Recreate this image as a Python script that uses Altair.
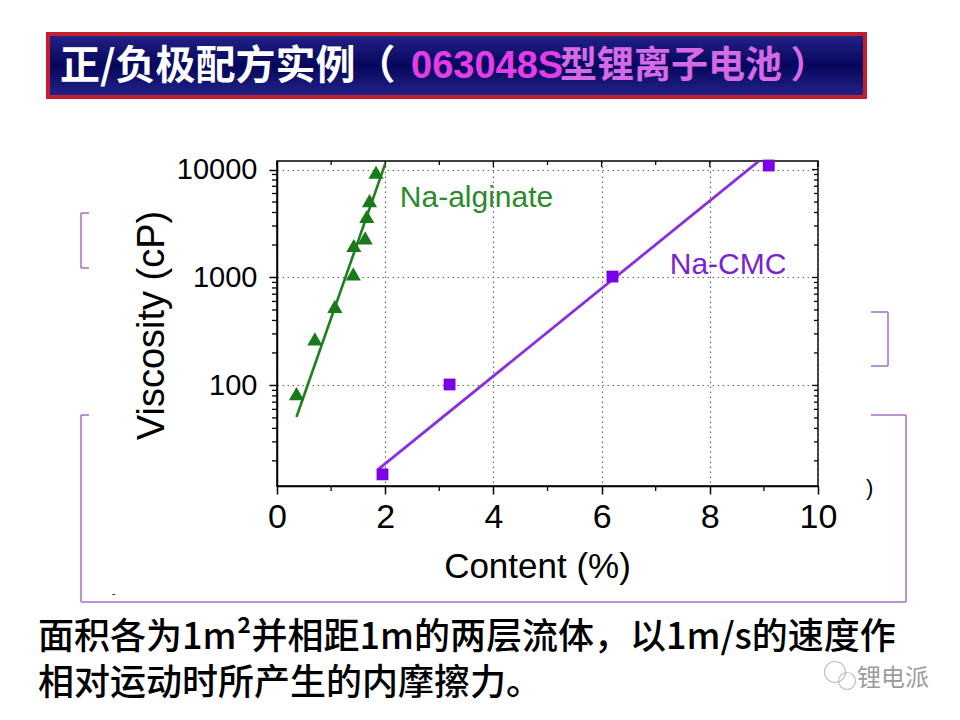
import altair as alt
import pandas as pd

# ---------------- data ----------------
ALG_CONTENT = [0.36, 0.70, 1.07, 1.41, 1.42, 1.63, 1.66, 1.71, 1.83]
ALG_VISC = [84, 270, 540, 1080, 1980, 2330, 3670, 5160, 9440]
ALG_FIT_CONTENT = [0.36, 2.00]
ALG_FIT_VISC = [51, 11300]

CMC_CONTENT = [1.95, 3.19, 6.20, 9.09]
CMC_VISC = [15, 102, 1020, 10900]
CMC_FIT_CONTENT = [1.87, 8.90]
CMC_FIT_VISC = [16.7, 11900]

SERIES_LABELS = ["Na-alginate", "Na-CMC"]
LABEL_CONTENT = [2.27, 7.26]
LABEL_VISC = [4480, 1075]

X_MAJOR = [0, 2, 4, 6, 8, 10]
X_MINOR = [1, 3, 5, 7, 9]
Y_MAJOR = [100, 1000, 10000]
Y_MINOR = [20, 30, 40, 50, 60, 70, 80, 90,
           200, 300, 400, 500, 600, 700, 800, 900,
           2000, 3000, 4000, 5000, 6000, 7000, 8000, 9000]

TITLE_WHITE = "正/负极配方实例（"
TITLE_CODE = "063048S"
TITLE_REST = "型锂离子电池 ）"
BODY_LINE1 = "面积各为1m²并相距1m的两层流体，以1m/s的速度作"
BODY_LINE2 = "相对运动时所产生的内摩擦力。"
WATERMARK = "锂电派"

# ---------------- layout ----------------
W, H = 541, 325
OX, OY = 277, 161          # page position of plot origin
LAT = "Liberation Sans"
CJK = "Noto Sans CJK SC"
BR = "#a86cc1"


def px(x):
    return x - OX


def py(y):
    return y - OY


xs = alt.Scale(domain=[0, 10], nice=False, zero=False)
ys = alt.Scale(type="log", domain=[11.7, 12000], nice=False)

X_AXIS = alt.Axis(
    values=X_MAJOR, format="d", title="Content (%)",
    tickSize=8, tickWidth=1.5, tickColor="black",
    domainColor="black", domainWidth=1.5,
    labelFont=LAT, labelFontSize=34, labelColor="black", labelPadding=6,
    labelFlush=False, labelOverlap=False,
    grid=True, gridDash=[1.5, 3.5], gridColor="#666666", gridWidth=1.2,
    titleFont=LAT, titleFontSize=35, titleFontWeight="normal", titleColor="black",
    titleX=260, titleY=91, titleBaseline="alphabetic", titleAlign="center",
)
Y_AXIS = alt.Axis(
    values=Y_MAJOR, format="d", title="Viscosity (cP)",
    tickSize=8, tickWidth=1.5, tickColor="black",
    domainColor="black", domainWidth=1.5,
    labelFont=LAT, labelFontSize=29, labelColor="black", labelPadding=12,
    labelFlush=False, labelOverlap=False,
    grid=True, gridDash=[1.5, 3.5], gridColor="#666666", gridWidth=1.2,
    titleFont=LAT, titleFontSize=38, titleFontWeight="normal", titleColor="black",
    titleX=-114, titleY=164, titleBaseline="alphabetic", titleAlign="center",
    titleAngle=270,
)


def X():
    return alt.X("content:Q", scale=xs, axis=X_AXIS)


def Y():
    return alt.Y("visc:Q", scale=ys, axis=Y_AXIS)


alg = pd.DataFrame({"content": ALG_CONTENT, "visc": ALG_VISC})
alg_fit = pd.DataFrame({"content": ALG_FIT_CONTENT, "visc": ALG_FIT_VISC})
cmc = pd.DataFrame({"content": CMC_CONTENT, "visc": CMC_VISC})
cmc_fit = pd.DataFrame({"content": CMC_FIT_CONTENT, "visc": CMC_FIT_VISC})

layers = []

# ---- decorations (slide elements) ----
ONE = alt.Data(values=[{}])


def seg(x1, y1, x2, y2, color=BR, w=1.5):
    return alt.Chart(ONE).mark_rule(color=color, strokeWidth=w).encode(
        x=alt.value(px(x1)), x2=alt.value(px(x2)),
        y=alt.value(py(y1)), y2=alt.value(py(y2)))


def txt(s, x, y, size, color="black", font=CJK, weight="normal",
        align="left", baseline="middle"):
    return alt.Chart(ONE).mark_text(
        font=font, fontSize=size, fontWeight=weight, color=color,
        align=align, baseline=baseline).encode(
        x=alt.value(px(x)), y=alt.value(py(y)), text=alt.value(s))


banner_fill = alt.Gradient(
    gradient="linear", x1=0, x2=0, y1=0, y2=1,
    stops=[alt.GradientStop(color="#24248a", offset=0),
           alt.GradientStop(color="#06065c", offset=0.5),
           alt.GradientStop(color="#24248a", offset=1)])
layers.append(
    alt.Chart(ONE).mark_rect(fill=banner_fill, stroke="#c2202c", strokeWidth=4).encode(
        x=alt.value(px(48)), x2=alt.value(px(865)),
        y=alt.value(py(34)), y2=alt.value(py(97))))
layers.append(txt(TITLE_WHITE, 60, 67, 40, "white", CJK, "bold"))
layers.append(txt(TITLE_CODE, 411, 67, 38, "#e23ee8", LAT, "bold"))
layers.append(txt(TITLE_REST, 560, 67, 37, "#d46ae4", CJK, "bold"))

# purple bracket remnants
layers += [
    seg(81, 213, 81, 268), seg(81, 213, 89, 213), seg(81, 268, 89, 268),
    seg(888, 312, 888, 366), seg(871, 312, 888, 312), seg(871, 366, 888, 366),
    seg(81, 415, 81, 602), seg(81, 415, 89, 415), seg(81, 602, 906, 602),
    seg(906, 415, 906, 602), seg(871, 415, 906, 415),
]
layers.append(txt(")", 866, 488, 22, "black", LAT))
layers.append(txt("-", 112, 594, 10, "black", LAT))

# body text
layers.append(txt(BODY_LINE1, 38, 638, 36, "black", CJK, 500))
layers.append(txt(BODY_LINE2, 38, 684, 36, "black", CJK, 500))

# watermark
layers.append(
    alt.Chart(ONE).mark_point(shape="circle", filled=False, color="#a8a8a8",
                              strokeWidth=1.2, size=440).encode(
        x=alt.value(px(835)), y=alt.value(py(672))))
layers.append(
    alt.Chart(ONE).mark_point(shape="circle", filled=False, color="#a8a8a8",
                              strokeWidth=1.2, size=290).encode(
        x=alt.value(px(847)), y=alt.value(py(681))))
layers.append(txt(WATERMARK, 857, 679, 24, "#9c9c9c", CJK))

# ---- minor / inward ticks of the frame ----
xmaj = pd.DataFrame({"content": X_MAJOR})
xmin = pd.DataFrame({"content": X_MINOR})
ymaj = pd.DataFrame({"visc": Y_MAJOR})
ymin = pd.DataFrame({"visc": Y_MINOR})

layers.append(alt.Chart(xmin).mark_rule(color="black", strokeWidth=1.3).encode(
    x=X(), y=alt.value(H), y2=alt.value(H + 5)))
layers.append(alt.Chart(xmaj).mark_rule(color="black", strokeWidth=1.3).encode(
    x=X(), y=alt.value(0), y2=alt.value(6)))
layers.append(alt.Chart(xmin).mark_rule(color="black", strokeWidth=1.3).encode(
    x=X(), y=alt.value(0), y2=alt.value(4)))
layers.append(alt.Chart(ymin).mark_rule(color="black", strokeWidth=1.3).encode(
    y=Y(), x=alt.value(-5), x2=alt.value(0)))
layers.append(alt.Chart(ymaj).mark_rule(color="black", strokeWidth=1.3).encode(
    y=Y(), x=alt.value(W - 6), x2=alt.value(W)))
layers.append(alt.Chart(ymin).mark_rule(color="black", strokeWidth=1.3).encode(
    y=Y(), x=alt.value(W - 4), x2=alt.value(W)))

# ---- data ----
layers.append(alt.Chart(alg_fit).mark_line(color="#1e7f1e", strokeWidth=2.6, clip=True).encode(
    x=X(), y=Y()))
layers.append(alt.Chart(cmc_fit).mark_line(color="#8a2ee0", strokeWidth=2.8, clip=True).encode(
    x=X(), y=Y()))
layers.append(alt.Chart(alg).mark_point(shape="triangle-up", filled=True, size=230,
                                        color="#1a7a1a", opacity=1).encode(x=X(), y=Y()))
layers.append(alt.Chart(cmc).mark_square(size=140, color="#7a00e8", opacity=1).encode(
    x=X(), y=Y()))

lab0 = pd.DataFrame({"content": [LABEL_CONTENT[0]], "visc": [LABEL_VISC[0]],
                     "label": [SERIES_LABELS[0]]})
lab1 = pd.DataFrame({"content": [LABEL_CONTENT[1]], "visc": [LABEL_VISC[1]],
                     "label": [SERIES_LABELS[1]]})
layers.append(alt.Chart(lab0).mark_text(align="left", baseline="alphabetic", font=LAT,
                                        fontSize=30, color="#2b8a2b").encode(
    x=X(), y=Y(), text="label:N"))
layers.append(alt.Chart(lab1).mark_text(align="left", baseline="alphabetic", font=LAT,
                                        fontSize=30, color="#7a22d0").encode(
    x=X(), y=Y(), text="label:N"))

chart = alt.layer(*layers).properties(
    width=W, height=H,
    autosize=alt.AutoSizeParams(type="none"),
    padding={"left": OX - 8, "top": OY - 8, "right": 940 - (OX - 8) - W,
             "bottom": 700 - (OY - 8) - H},
    background="white",
).configure_view(stroke="black", strokeWidth=1.5)

chart.save("out.html", embed_options={"renderer": "svg", "actions": False})
